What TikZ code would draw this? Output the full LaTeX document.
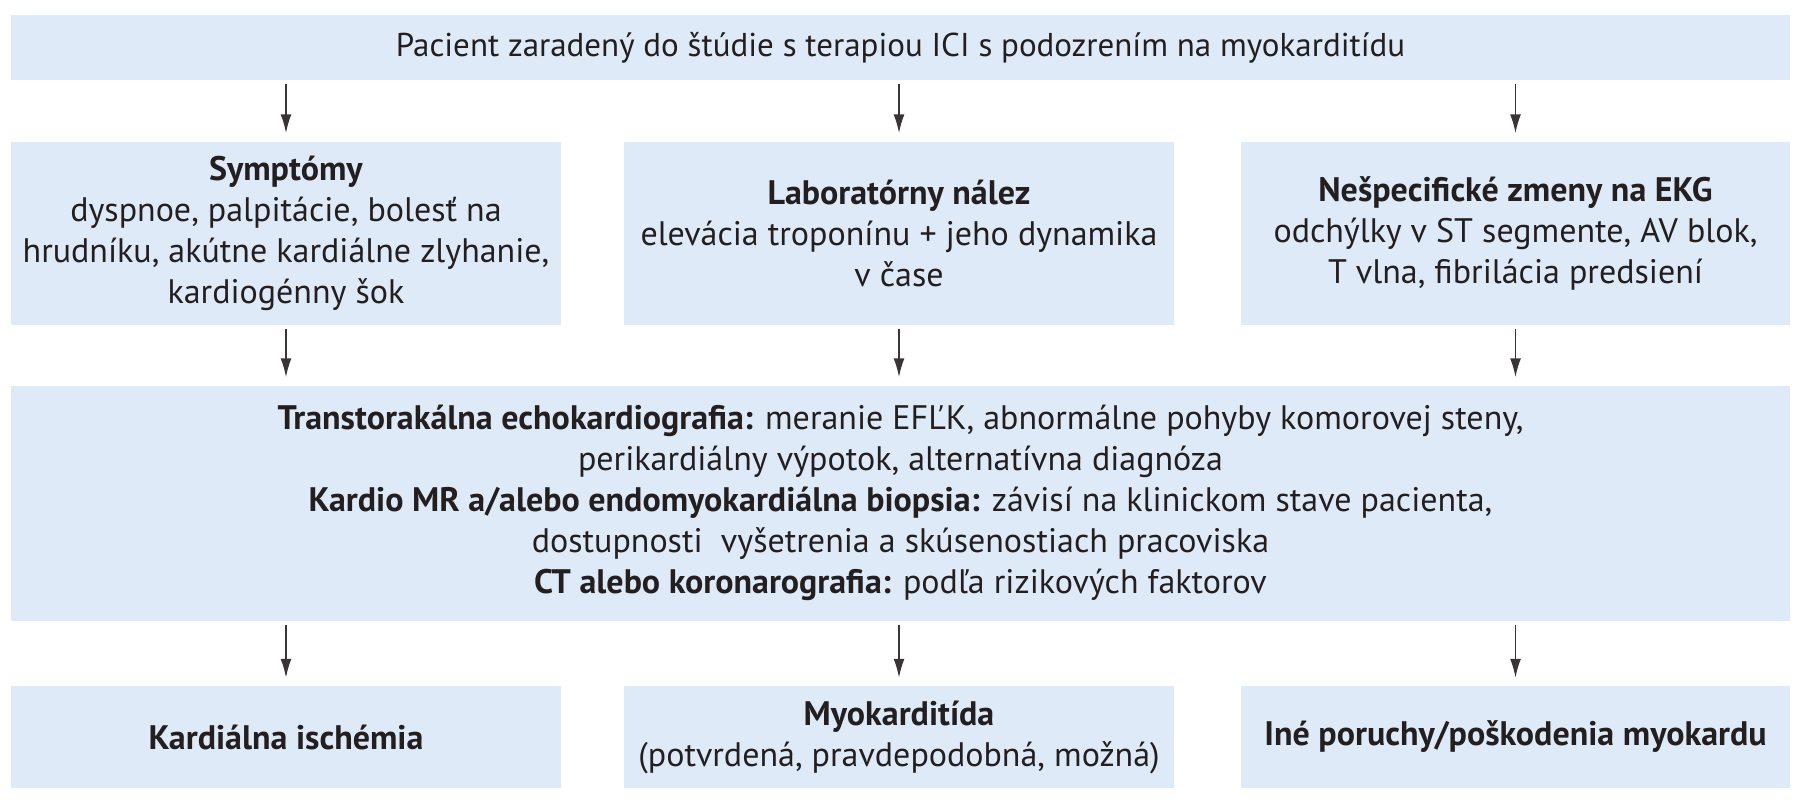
\documentclass[tikz,border=0pt]{standalone}
\usepackage{fontspec}
\setmainfont{PT Sans}
\usetikzlibrary{arrows.meta}
\definecolor{boxfill}{RGB}{222,234,247}
\definecolor{txt}{RGB}{35,31,32}
\begin{document}
\begin{tikzpicture}[x=1pt,y=-1pt,
  box/.style={fill=boxfill,draw=none,inner sep=0pt,align=center,text=txt,
    font=\fontsize{34}{41}\selectfont},
  arr/.style={draw=txt!90,line width=1.8pt,-{Latex[length=19pt,width=11pt]},
    shorten <=4pt,shorten >=8pt}]
\useasboundingbox (0,0) rectangle (1804,800);
\node[box,minimum width=1779pt,minimum height=65pt,font=\fontsize{33}{41}\selectfont] (top) at (900.5,47.5)
  {Pacient zaradený do štúdie s terapiou ICI s podozrením na myokarditídu};
\node[box,minimum width=550pt,minimum height=183pt] (l) at (286,233)
  {\textbf{Symptómy}\\dyspnoe, palpitácie, bolesť na\\hrudníku, akútne kardiálne zlyhanie,\\kardiogénny šok};
\node[box,minimum width=550pt,minimum height=183pt] (m) at (899,233)
  {\textbf{Laboratórny nález}\\elevácia troponínu + jeho dynamika\\v čase};
\node[box,minimum width=549pt,minimum height=183pt] (r) at (1515.5,233)
  {\textbf{Nešpecifické zmeny na EKG}\\odchýlky v ST segmente, AV blok,\\T vlna, fibrilácia predsiení};
\node[box,minimum width=1779pt,minimum height=235pt] (big) at (900.5,503)
  {\textbf{Transtorakálna echokardiografia:} meranie EFĽK, abnormálne pohyby komorovej steny,\\
   perikardiálny výpotok, alternatívna diagnóza\\
   \textbf{Kardio MR a/alebo endomyokardiálna biopsia:} závisí na klinickom stave pacienta,\\
   dostupnosti\ \ vyšetrenia a skúsenostiach pracoviska\\
   \textbf{CT alebo koronarografia:} podľa rizikových faktorov};
\node[box,minimum width=550pt,minimum height=102pt] (bl) at (286,737)
  {\textbf{Kardiálna ischémia}};
\node[box,minimum width=550pt,minimum height=102pt] (bm) at (899,737)
  {\textbf{Myokarditída}\\(potvrdená, pravdepodobná, možná)};
\node[box,minimum width=549pt,minimum height=102pt] (br) at (1515.5,737)
  {\textbf{Iné poruchy/poškodenia myokardu}};
\foreach \n in {l,m,r}{
  \draw[arr] (top.south -| \n.north) -- (\n.north);
  \draw[arr] (\n.south) -- (\n.south |- big.north);
}
\foreach \n in {bl,bm,br}{
  \draw[arr] (big.south -| \n.north) -- (\n.north);
}
\end{tikzpicture}
\end{document}
